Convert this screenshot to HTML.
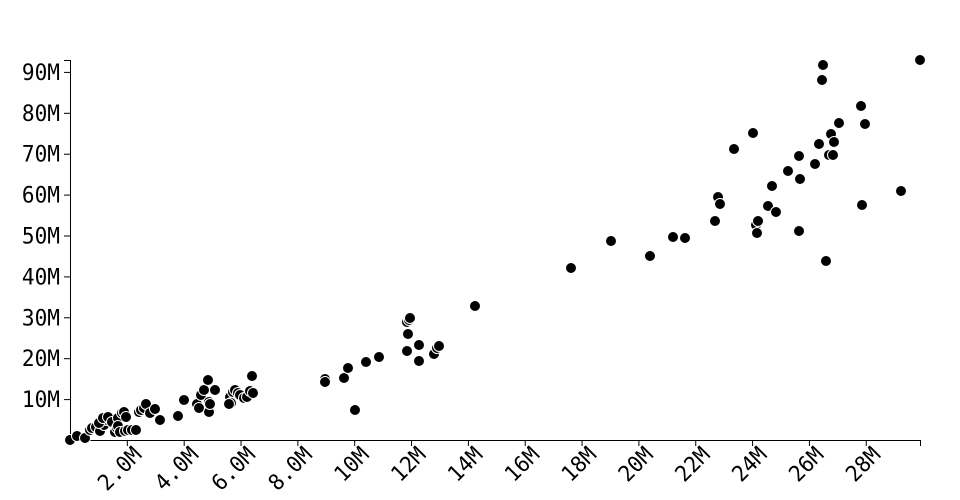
<!DOCTYPE html><html><head><style>body{margin:0;background:#fff}svg{display:block}text{font-family:"DejaVu Sans Mono","Liberation Mono",monospace;font-size:22px;fill:#000}circle{fill:#000;stroke:#fff;stroke-width:1}</style></head><body>
<svg width="960" height="500" id="s">
<g stroke="#000" stroke-width="1" fill="none">
<path d="M64,60.5H70.5V440.5H64"/>
<path d="M70.5,446V440.5H920.5V446"/>
</g>
<g id="t"></g><g id="p"></g>
</svg>
<script>
var s="http://www.w3.org/2000/svg",t=document.getElementById('t'),p=document.getElementById('p');
function el(n,a,x){var e=document.createElementNS(s,n);for(var k in a)e.setAttribute(k,a[k]);if(x)e.textContent=x;return e}
for(var i=1;i<=9;i++){var y=440-i*40.9;t.appendChild(el('line',{x1:64,x2:70,y1:y+.5,y2:y+.5,stroke:'#000'}));var l=i*10+'M';t.appendChild(el('text',{x:60,y:y+8,'text-anchor':'end',textLength:l.length*12.7,lengthAdjust:'spacingAndGlyphs'},l))}
for(var i=1;i<=14;i++){var v=i*2,x=70+v*28.42;t.appendChild(el('line',{x1:x+.5,x2:x+.5,y1:440,y2:446,stroke:'#000'}));var l=v<10?v.toFixed(1)+'M':v+'M';var ax=x+16,ay=456;t.appendChild(el('text',{x:ax,y:ay,'text-anchor':'end',textLength:l.length*12.7,lengthAdjust:'spacingAndGlyphs',transform:'rotate(-45 '+ax+' '+ay+')'},l))}
var d=[[70,440],[77,436],[85,438],[90,430],[92,428],[96,427],[100,431],[104,425],[107,420],[110,419],[99,423],[103,418],[108,417],[112,422],[118,418],[122,413],[124,412],[126,417],[115,432],[117,428],[118,426],[120,432],[125,431],[128,430],[132,430],[136,430],[139,412],[141,410],[144,408],[146,404],[150,413],[155,409],[160,420],[178,416],[184,400],[197,404],[199,408],[201,395],[204,390],[208,380],[209,402],[209,412],[210,404],[215,390],[230,397],[231,403],[233,392],[235,390],[238,393],[240,395],[244,398],[247,397],[250,391],[252,376],[253,393],[229,404],[325,379],[325,382],[344,378],[348,368],[355,410],[366,362],[379,357],[407,322],[408,334],[409,320],[410,318],[407,351],[419,345],[419,361],[434,354],[437,348],[439,346],[475,306],[571,268],[611,241],[650,256],[673,237],[685,238],[715,221],[718,197],[720,204],[734,149],[753,133],[756,225],[757,233],[758,221],[768,206],[772,186],[776,212],[788,171],[799,231],[799,156],[800,179],[815,164],[819,144],[822,80],[823,65],[826,261],[829,155],[831,134],[834,142],[833,155],[839,123],[861,106],[862,205],[865,124],[901,191],[920,60]];
d.forEach(function(q){p.appendChild(el('circle',{cx:q[0],cy:q[1],r:5.5}))});
</script></body></html>
